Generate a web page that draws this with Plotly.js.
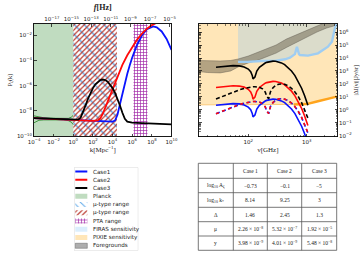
<!DOCTYPE html>
<html><head><meta charset="utf-8">
<script src="https://cdn.plot.ly/plotly-3.0.1.min.js"></script>
<style>html,body{margin:0;padding:0;background:#fff}#chart{width:361px;height:256px}</style>
</head><body><div id="chart"></div>
<script>
// ================= DATA (left panel: P_zeta(k)) =================
const case1LogK = [-4,-2,0,2,3,3.5,4,4.25,4.5,4.75,5,5.25,5.5,5.75,6,6.5,7,7.5,8,8.14,8.5,9,9.5,10];
const case1LogP = [-8.584,-8.654,-8.724,-8.794,-8.829,-8.847,-8.855,-8.774,-8.313,-7.483,-6.616,-5.804,-5.058,-4.379,-3.767,-2.746,-1.995,-1.515,-1.304,-1.293,-1.363,-1.693,-2.292,-3.162];
const case2LogK = [-4,-2,0,2,2.5,2.75,3,3.25,3.5,3.75,4,4.5,5,5.5,6,6.5,7,7.5,8,8.5,9,9.5,10];
const case2LogP = [-8.584,-8.654,-8.724,-8.791,-8.750,-8.596,-8.248,-7.755,-7.219,-6.687,-6.175,-5.216,-4.353,-3.585,-2.914,-2.339,-1.859,-1.476,-1.188,-0.996,-0.900,-0.900,-0.996];
const case3LogK = [-4,-3,-2,-1,0,0.5,0.75,1,1.25,1.5,1.75,2,2.25,2.5,2.75,3,3.25,3.5,3.75,4,4.25,4.5,4.75,5,5.25,5.5,6,7,8,9,10];
const case3LogP = [-8.584,-8.619,-8.654,-8.689,-8.724,-8.703,-8.542,-8.124,-7.570,-7.038,-6.575,-6.194,-5.896,-5.683,-5.556,-5.513,-5.556,-5.683,-5.896,-6.194,-6.575,-7.039,-7.577,-8.152,-8.633,-8.860,-8.933,-8.969,-9.004,-9.039,-9.074];
const planckBandLogK = [-4,-3.5,-3,-2,-1,-0.5,-0.2,0];
const planckBandUpper = [-8.40,-8.50,-8.55,-8.59,-8.62,-8.60,-8.50,-8.35];
const planckBandLower = [-8.95,-8.75,-8.72,-8.70,-8.72,-8.78,-8.90,-9.10];
const planckRange = [1e-4, 1];
const yTypeRange = [1, 2.8e4];
const muTypeRange = [1, 2.8e4];
const ptaRange = [1.35e6, 3.6e7];

// ================= DATA (right panel: |Delta I(nu)|) =================
const nuGHz = [28,35,45,55,70,85,100,110,117,120.5,130,140,155,175,195,207,224,240,265,295,330,370,420,480,550,630,720,820,920,1050];
const case1MuLogI = [0.360,0.419,0.468,0.485,0.464,0.383,0.216,0.008,-0.270,-0.540,-0.390,0.064,0.357,0.563,0.684,0.733,0.781,0.809,0.827,0.818,0.775,0.694,0.557,0.352,0.072,-0.289,-0.732,-1.260,-1.817,-2.573];
const case1YLogI = [-0.299,-0.115,0.085,0.237,0.403,0.518,0.593,0.624,0.638,0.642,0.647,0.638,0.599,0.483,0.240,-0.080,-0.277,0.260,0.568,0.741,0.834,0.863,0.828,0.718,0.525,0.245,-0.124,-0.583,-1.080,-1.770];
const case2MuLogI = [1.732,1.791,1.840,1.857,1.836,1.755,1.588,1.380,1.102,0.832,0.982,1.436,1.729,1.935,2.056,2.105,2.153,2.181,2.199,2.190,2.147,2.066,1.929,1.724,1.444,1.083,0.640,0.112,-0.445,-1.201];
const case2YLogI = [-0.296,-0.112,0.088,0.240,0.406,0.521,0.596,0.627,0.641,0.645,0.650,0.641,0.602,0.486,0.243,-0.077,-0.274,0.263,0.571,0.744,0.837,0.866,0.831,0.721,0.528,0.248,-0.121,-0.580,-1.077,-1.767];
const case3MuLogI = [3.289,3.348,3.397,3.414,3.393,3.312,3.145,2.937,2.659,2.389,2.539,2.993,3.286,3.492,3.613,3.662,3.710,3.738,3.756,3.747,3.704,3.623,3.486,3.281,3.001,2.640,2.197,1.669,1.113,0.356];
const case3YLogI = [0.840,1.024,1.224,1.376,1.542,1.657,1.732,1.763,1.777,1.781,1.786,1.777,1.738,1.622,1.379,1.059,0.862,1.399,1.707,1.880,1.973,2.002,1.967,1.857,1.664,1.384,1.015,0.556,0.059,-0.631];
const firasNu = [66.7,97.5,172,286,426,518,631,682,738,767,1052,1563,2317,2710,3055,3300];
const firasLogI = [3.70,3.70,3.77,3.78,3.90,4.02,4.30,4.87,4.30,4.23,4.18,4.36,4.87,5.25,6.30,6.70];
const pixieNu = [14.3,100,300,600,1000,1500,2200,3300];
const pixieLogI = [0.39,0.39,0.40,0.42,0.45,0.65,0.85,1.02];
const pixieLineNu = [600,1000,1500,2200,3300];
const pixieLineLogI = [0.42,0.45,0.65,0.85,1.02];
const fgNu = [14.3,20,33,50,67,100,150,200,300,450,700,1000,1500,2200,3300];
const fgUpperLogI = [3.81,3.79,3.77,3.81,3.92,4.15,4.46,4.65,5.00,5.46,5.85,6.15,6.46,6.77,6.92];
const fgLowerLogI = [2.95,2.88,2.85,3.00,3.31,3.62,3.85,4.04,4.38,4.81,5.23,5.62,6.00,6.31,6.54];

// ================= TABLE =================
const tableHeader = ['', 'Case 1', 'Case 2', 'Case 3'];
const rowLabels = ['log<sub>10</sub> A<sub>ζ</sub>', 'log<sub>10</sub> k<sub>*</sub>', 'Δ', 'μ', 'y'];
const case1Params = ['−0.73', '8.14', '1.46', '2.26 × 10<sup>−8</sup>', '3.98 × 10<sup>−9</sup>'];
const case2Params = ['−0.1', '9.25', '2.45', '5.32 × 10<sup>−7</sup>', '4.01 × 10<sup>−9</sup>'];
const case3Params = ['−5', '3', '1.3', '1.92 × 10<sup>−5</sup>', '5.48 × 10<sup>−8</sup>'];

const legendLabels = ['Case1','Case2','Case3','Planck','μ-type range','μ-type range','PTA range','FIRAS sensitivity','PIXIE sensitivity','Foregrounds'];

// ================= BUILD =================
const P = a => a.map(v => Math.pow(10, v));
const C1 = '#0a14ff', C2 = '#ff0a0a', C3 = '#000000';
const GREEN = 'rgba(46,139,46,0.3)';
const FIRAS_FILL = 'rgba(135,200,250,0.3)';
const PIXIE_FILL = 'rgba(255,165,0,0.28)';
const FG_FILL = 'rgba(105,95,75,0.5)';
const BLUE_HATCH = {shape:'\\', fgcolor:'#58a6e8', bgcolor:'rgba(0,0,0,0)', size:7, solidity:0.2};
const RED_HATCH = {shape:'/', fgcolor:'#b8352a', bgcolor:'rgba(0,0,0,0)', size:3.6, solidity:0.33};
const PTA_HATCH = {shape:'+', fgcolor:'#a22aa8', bgcolor:'rgba(0,0,0,0)', size:3, solidity:0.4};
const traces = [];
function band(range, xa, ya, extra) {
  return Object.assign({type:'scatter', mode:'lines', x:[range[0],range[1],range[1],range[0],range[0]],
    y:[1e-12,1e-12,1,1,1e-12], fill:'toself', line:{width:0}, xaxis:xa, yaxis:ya, hoverinfo:'skip'}, extra);
}
traces.push(band(planckRange,'x','y',{fillcolor:GREEN}));
traces.push(band(yTypeRange,'x','y',{fillcolor:'rgba(0,0,0,0)', fillpattern:BLUE_HATCH}));
traces.push(band(muTypeRange,'x','y',{fillcolor:'rgba(0,0,0,0)', fillpattern:RED_HATCH}));
traces.push(band(ptaRange,'x','y',{fillcolor:'rgba(0,0,0,0)', fillpattern:PTA_HATCH}));
traces.push({type:'scatter', mode:'lines', x:P(planckBandLogK), y:P(planckBandUpper), line:{color:'#2e8b2e', width:0.9}, xaxis:'x', yaxis:'y'});
traces.push({type:'scatter', mode:'lines', x:P(planckBandLogK), y:P(planckBandLower), line:{color:'#2e8b2e', width:0.9}, xaxis:'x', yaxis:'y'});
traces.push({type:'scatter', mode:'lines', x:P(case1LogK), y:P(case1LogP), line:{color:C1, width:1.8}, xaxis:'x', yaxis:'y'});
traces.push({type:'scatter', mode:'lines', x:P(case2LogK), y:P(case2LogP), line:{color:C2, width:1.8}, xaxis:'x', yaxis:'y'});
traces.push({type:'scatter', mode:'lines', x:P(case3LogK), y:P(case3LogP), line:{color:C3, width:1.8}, xaxis:'x', yaxis:'y'});
// empty trace so the top frequency axis is drawn
traces.push({type:'scatter', mode:'lines', x:[], y:[], xaxis:'x2', yaxis:'y'});

traces.push({type:'scatter', mode:'lines', x:pixieNu.concat(pixieNu.slice().reverse()), y:P(pixieLogI).concat(pixieNu.map(()=>1e8)),
  fill:'toself', fillcolor:PIXIE_FILL, line:{width:0}, xaxis:'x3', yaxis:'y3', hoverinfo:'skip'});
traces.push({type:'scatter', mode:'lines', x:firasNu.concat(firasNu.slice().reverse()), y:P(firasLogI).concat(firasNu.map(()=>1e8)),
  fill:'toself', fillcolor:FIRAS_FILL, line:{width:0}, xaxis:'x3', yaxis:'y3', hoverinfo:'skip'});
traces.push({type:'scatter', mode:'lines', x:fgNu.concat(fgNu.slice().reverse()), y:P(fgUpperLogI).concat(P(fgLowerLogI).reverse()),
  fill:'toself', fillcolor:FG_FILL, line:{width:0.6, color:'rgba(90,85,75,0.7)'}, xaxis:'x3', yaxis:'y3', hoverinfo:'skip'});
traces.push({type:'scatter', mode:'lines', x:firasNu, y:P(firasLogI), line:{color:'#9fcdf2', width:2.4}, xaxis:'x3', yaxis:'y3'});
traces.push({type:'scatter', mode:'lines', x:pixieNu, y:P(pixieLogI), line:{color:'#fbc97a', width:1}, xaxis:'x3', yaxis:'y3'});
traces.push({type:'scatter', mode:'lines', x:pixieLineNu, y:P(pixieLineLogI), line:{color:'#ffa41c', width:2.4}, xaxis:'x3', yaxis:'y3'});
const dash = '4px,2.5px';
traces.push({type:'scatter', mode:'lines', x:nuGHz, y:P(case1MuLogI), line:{color:C1, width:1.6}, xaxis:'x3', yaxis:'y3'});
traces.push({type:'scatter', mode:'lines', x:nuGHz, y:P(case1YLogI), line:{color:C1, width:1.6, dash:dash}, xaxis:'x3', yaxis:'y3'});
traces.push({type:'scatter', mode:'lines', x:nuGHz, y:P(case2MuLogI), line:{color:C2, width:1.6}, xaxis:'x3', yaxis:'y3'});
traces.push({type:'scatter', mode:'lines', x:nuGHz, y:P(case2YLogI), line:{color:C2, width:1.6, dash:'3px,3.5px'}, xaxis:'x3', yaxis:'y3'});
traces.push({type:'scatter', mode:'lines', x:nuGHz, y:P(case3MuLogI), line:{color:C3, width:1.6}, xaxis:'x3', yaxis:'y3'});
traces.push({type:'scatter', mode:'lines', x:nuGHz, y:P(case3YLogI), line:{color:C3, width:1.6, dash:dash}, xaxis:'x3', yaxis:'y3'});

const annotations = [];
const shapes = [];
// ----- table drawn with shapes + annotations (paper coords from pixel grid) -----
const colEdges = [198.3, 233.3, 267.3, 301.7, 336.7];
const rowEdges = [163.3, 178.3, 192.7, 207.3, 221.7, 236, 250.3];
const px = x => x / 361, py = y => 1 - y / 256;
colEdges.forEach(x => shapes.push({type:'line', xref:'paper', yref:'paper', x0:px(x), x1:px(x), y0:py(rowEdges[0]), y1:py(rowEdges[rowEdges.length-1]), line:{color:'#555', width:0.8}}));
rowEdges.forEach(y => shapes.push({type:'line', xref:'paper', yref:'paper', x0:px(colEdges[0]), x1:px(colEdges[colEdges.length-1]), y0:py(y), y1:py(y), line:{color:'#555', width:0.8}}));
const tableCols = [rowLabels, case1Params, case2Params, case3Params];
const tFont = {family:'Liberation Serif, serif', size:5.5, color:'#222'};
function cellText(ci, ri, txt) {
  const xc = (colEdges[ci] + colEdges[ci+1]) / 2, yc = (rowEdges[ri] + rowEdges[ri+1]) / 2;
  annotations.push({xref:'paper', yref:'paper', x:px(xc), y:py(yc), text:txt, showarrow:false, xanchor:'center', yanchor:'middle', font:tFont});
}
tableHeader.forEach((h, ci) => { if (h) cellText(ci, 0, h); });
tableCols.forEach((col, ci) => col.forEach((v, ri) => cellText(ci, ri + 1, v)));

// ----- manual legend (axis x4/y4 in pixel-like units) -----
const legLine = [C1, C2, C3];
legendLabels.forEach((lab, i) => {
  const c = 4 + 8.18 * i;
  annotations.push({xref:'x4', yref:'y4', x:16.5, y:c, text:lab, showarrow:false, xanchor:'left', yanchor:'middle',
    font:{family:'DejaVu Sans, sans-serif', size:5.6, color:'#222'}});
  if (i < 3) {
    traces.push({type:'scatter', mode:'lines', x:[1.3,13.3], y:[c,c], line:{color:legLine[i], width:2}, xaxis:'x4', yaxis:'y4', hoverinfo:'skip'});
  } else {
    const rect = {type:'scatter', mode:'lines', x:[1.3,13.3,13.3,1.3,1.3], y:[c-2.5,c-2.5,c+2.5,c+2.5,c-2.5], fill:'toself', xaxis:'x4', yaxis:'y4', hoverinfo:'skip'};
    const styles = [
      {fillcolor:GREEN, line:{width:0}},
      {fillcolor:'rgba(0,0,0,0)', line:{width:0}, fillpattern:Object.assign({}, BLUE_HATCH, {size:5})},
      {fillcolor:'rgba(0,0,0,0)', line:{width:0}, fillpattern:RED_HATCH},
      {fillcolor:'rgba(0,0,0,0)', line:{width:0}, fillpattern:PTA_HATCH},
      {fillcolor:FIRAS_FILL, line:{width:0}},
      {fillcolor:PIXIE_FILL, line:{width:0}},
      {fillcolor:'rgba(120,120,120,0.6)', line:{width:0.6, color:'rgba(80,80,80,0.7)'}}
    ];
    traces.push(Object.assign(rect, styles[i-3]));
  }
});

const tickFont = {family:'DejaVu Sans, sans-serif', size:5.5, color:'#222'};
const sup = n => '10<sup>' + (n < 0 ? '−' + (-n) : n) + '</sup>';
const axBase = {type:'log', showgrid:false, zeroline:false, showline:true, linecolor:'#000', linewidth:0.9,
  ticks:'inside', ticklen:2.5, tickwidth:0.7, tickcolor:'#000', tickfont:tickFont, tickmode:'array'};
const minorVals = [];
for (let e = -2; e < 7; e++) for (let m = 2; m <= 9; m++) minorVals.push(m * Math.pow(10, e));
const minorNu = [];
for (let e = 1; e < 4; e++) for (let m = 2; m <= 9; m++) minorNu.push(m * Math.pow(10, e));

const layout = {
  width:361, height:256, margin:{l:0,r:0,t:0,b:0}, paper_bgcolor:'#fff', plot_bgcolor:'#fff', showlegend:false,
  xaxis: Object.assign({}, axBase, {domain:[34/361, 171.5/361], range:[-4,10], anchor:'y',
    tickvals:[-4,-2,0,2,4,6,8,10].map(e=>Math.pow(10,e)), ticktext:[-4,-2,0,2,4,6,8,10].map(sup),
    title:{text:'k[Mpc<sup>−1</sup>]', font:{family:'Liberation Serif, serif', size:7, color:'#222'}, standoff:3}}),
  xaxis2: Object.assign({}, axBase, {overlaying:'x', side:'top', anchor:'y', range:[-18.811,-4.811],
    tickvals:[-17,-15,-13,-11,-9,-7,-5].map(e=>Math.pow(10,e)), ticktext:[-17,-15,-13,-11,-9,-7,-5].map(sup),
    title:{text:'<b><i>f</i>[Hz]</b>', font:{family:'Liberation Serif, serif', size:8, color:'#222'}, standoff:2}}),
  yaxis: Object.assign({}, axBase, {domain:[120/256, 232/256], range:[-10,-1.1], anchor:'x', mirror:true,
    tickvals:[-10,-8,-6,-4,-2].map(e=>Math.pow(10,e)), ticktext:[-10,-8,-6,-4,-2].map(sup),
    title:{text:'P<sub>ζ</sub>(k)', font:{family:'Liberation Serif, serif', size:6.5, color:'#222'}, standoff:3}}),
  xaxis3: Object.assign({}, axBase, {domain:[199/361, 337/361], range:[1.156,3.52], anchor:'y3', mirror:'ticks',
    tickvals:[100,1000], ticktext:[sup(2),sup(3)], minor:{tickmode:'array', tickvals:minorNu, ticks:'inside', ticklen:1.5, tickwidth:0.5, tickcolor:'#000'},
    title:{text:'ν[GHz]', font:{family:'Liberation Serif, serif', size:7, color:'#222'}, standoff:3}}),
  yaxis3: Object.assign({}, axBase, {domain:[119.5/256, 232/256], range:[-2.05,6.62], anchor:'x3', side:'right', mirror:'ticks',
    tickvals:[-2,-1,0,1,2,3,4,5,6].map(e=>Math.pow(10,e)), ticktext:[-2,-1,0,1,2,3,4,5,6].map(sup),
    minor:{tickmode:'array', tickvals:minorVals, ticks:'inside', ticklen:1.5, tickwidth:0.5, tickcolor:'#000'},
    title:{text:'|ΔI(ν)|[Jy/sr]', font:{family:'Liberation Serif, serif', size:6, color:'#222'}, standoff:2}}),
  xaxis4: {domain:[74/361, 138.3/361], range:[0,64.3], anchor:'y4', visible:false, fixedrange:true},
  yaxis4: {domain:[5.5/256, 88.5/256], range:[82.3,0], anchor:'x4', visible:false, fixedrange:true},
  shapes: shapes.concat([{type:'rect', xref:'x4', yref:'y4', x0:0, x1:64.3, y0:0, y1:82.3, line:{color:'#cfcfcf', width:0.8}, fillcolor:'rgba(0,0,0,0)', layer:'below'}]),
  annotations: annotations
};
Plotly.newPlot('chart', traces, layout, {staticPlot:true, displayModeBar:false});
</script></body></html>
